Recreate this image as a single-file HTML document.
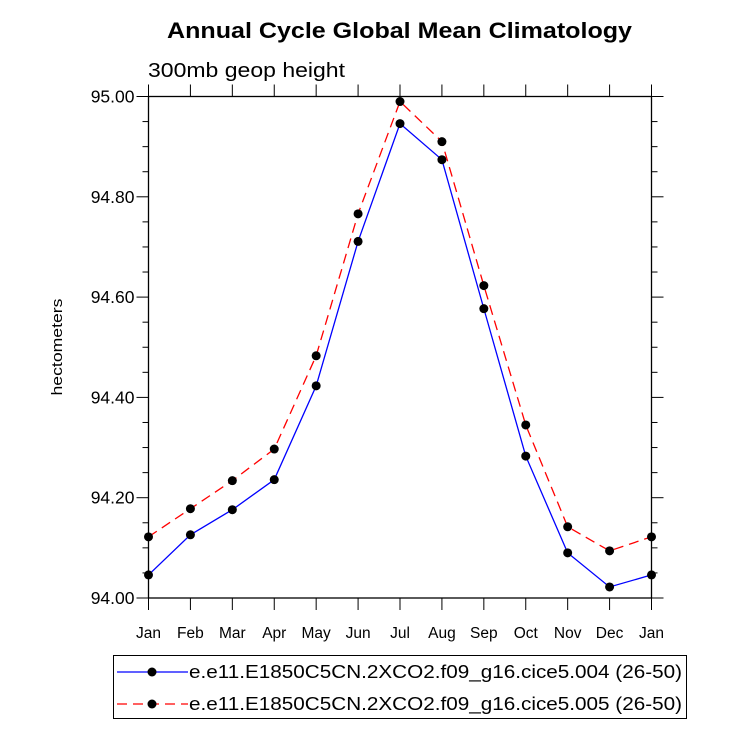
<!DOCTYPE html>
<html><head><meta charset="utf-8"><style>
body{margin:0;background:#fff;}
svg{display:block;font-family:"Liberation Sans",sans-serif;}
</style></head><body>
<svg width="733" height="729">
<text x="167" y="38" textLength="465" lengthAdjust="spacingAndGlyphs" font-size="22" font-weight="bold">Annual Cycle Global Mean Climatology</text>
<text x="148" y="77" textLength="197" lengthAdjust="spacingAndGlyphs" font-size="20">300mb geop height</text>
<text transform="translate(62,347) rotate(-90)" text-anchor="middle" textLength="97" lengthAdjust="spacingAndGlyphs" font-size="15">hectometers</text>
<g id="axes"></g>
<g id="series"></g>
<rect x="113.5" y="655.5" width="573" height="63" fill="none" stroke="#000" stroke-width="1"/>
<g>
<line x1="117" y1="672" x2="188" y2="672" stroke="#0000ff" stroke-width="1.2"/>
<circle cx="152" cy="672" r="4.5" fill="#000"/>
<text x="189" y="678" textLength="493" lengthAdjust="spacingAndGlyphs" font-size="18.5">e.e11.E1850C5CN.2XCO2.f09_g16.cice5.004 (26-50)</text>
</g>
<g>
<line x1="117" y1="704" x2="188" y2="704" stroke="#ff0000" stroke-width="1.2" stroke-dasharray="10,6"/>
<circle cx="152" cy="704" r="4.5" fill="#000"/>
<text x="189" y="710" textLength="493" lengthAdjust="spacingAndGlyphs" font-size="18.5">e.e11.E1850C5CN.2XCO2.f09_g16.cice5.005 (26-50)</text>
</g>
</svg>
<script>
const months=["Jan","Feb","Mar","Apr","May","Jun","Jul","Aug","Sep","Oct","Nov","Dec","Jan"];
const series004=[94.046,94.126,94.176,94.236,94.423,94.711,94.946,94.874,94.577,94.283,94.090,94.022,94.046];
const series005=[94.122,94.178,94.234,94.297,94.483,94.766,94.990,94.910,94.623,94.345,94.142,94.094,94.122];
const yTicks=[94.00,94.20,94.40,94.60,94.80,95.00];
const L=148.5,R=651.5,T=96.5,B=598,yMin=94,yMax=95;
const xs=i=>L+(R-L)*i/(months.length-1);
const ys=v=>B-(B-T)*(v-yMin)/(yMax-yMin);
const NS="http://www.w3.org/2000/svg";
function mk(tag,attrs,parent){const e=document.createElementNS(NS,tag);for(const k in attrs)e.setAttribute(k,attrs[k]);parent.appendChild(e);return e;}
const ax=document.getElementById('axes');
const frame=mk('rect',{x:L,y:T,width:R-L,height:B-T,fill:'none',stroke:'#000','stroke-width':1.3},ax);


months.forEach((m,i)=>{const x=xs(i);
 mk('line',{x1:x,y1:B,x2:x,y2:B+12,stroke:'#000'},ax);
 mk('line',{x1:x,y1:T,x2:x,y2:T-12,stroke:'#000'},ax);
 const t=mk('text',{x:x,y:B+40,'text-anchor':'middle','font-size':15.5},ax);t.textContent=m;
 
 
});
for(let v=yMin;v<=yMax+1e-9;v+=0.05){const y=ys(v);const major=Math.abs(Math.round(v*5)-v*5)<1e-6;const len=major?12:6;
 mk('line',{x1:L,y1:y,x2:L-len,y2:y,stroke:'#000'},ax);
 mk('line',{x1:R,y1:y,x2:R+len,y2:y,stroke:'#000'},ax);}
yTicks.forEach(v=>{const t=mk('text',{x:L-14,y:ys(v)+6,'text-anchor':'end','font-size':17.5},ax);t.textContent=v.toFixed(2);
 
 });
const sg=document.getElementById('series');
function draw(data,color,dash,name){
 const g=mk('g',{},sg);
 
 
 const p=mk('polyline',{points:data.map((v,i)=>xs(i)+','+ys(v)).join(' '),fill:'none',stroke:color,'stroke-width':1.3},g);
 if(dash)p.setAttribute('stroke-dasharray',dash);
 data.forEach((v,i)=>{const c=mk('circle',{cx:xs(i),cy:ys(v),r:4.5,fill:'#000'},g);
  
  });
}
draw(series004,'#0000ff',null,'series-004');
draw(series005,'#ff0000','10,6','series-005');
</script>
</body></html>
